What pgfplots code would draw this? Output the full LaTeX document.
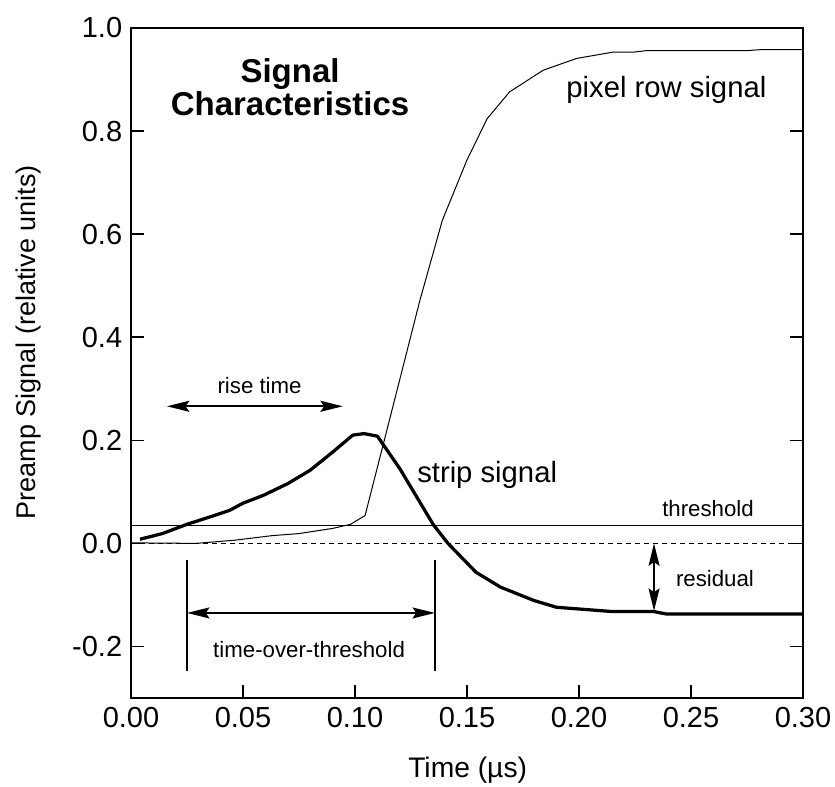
\documentclass[border=0pt]{standalone}
\usepackage{fontspec}
\setmainfont{Liberation Sans}
\usepackage{pgfplots}
\pgfplotsset{compat=1.18}
\usetikzlibrary{arrows.meta}

\begin{document}
\begin{tikzpicture}
\begin{axis}[
	scale only axis,
	width=268.8pt,
	height=268pt,
	xmin=0, xmax=0.30,
	ymin=-0.3, ymax=1.0,
	xtick={0,0.05,...,0.30},
	ytick={-0.2,0,0.2,0.4,0.6,0.8,1.0},
	xtick pos=bottom,
	ytick pos=both,
	tick align=inside,
	major tick length=5.2pt,
	axis line style={line width=0.6pt},
	every tick/.style={black, line width=0.6pt},
	xticklabel style={/pgf/number format/.cd, fixed, fixed zerofill, precision=2, assume math mode=true},
	yticklabel style={/pgf/number format/.cd, fixed, fixed zerofill, precision=1, assume math mode=true},
	scaled x ticks=false,
	tick label style={font=\fontsize{11.6}{13}\selectfont},
	xlabel={Time (µs)},
	ylabel={Preamp Signal (relative units)},
	xlabel style={font=\fontsize{11.3}{13}\selectfont, at={(rel axis cs:0.501,-0.118)}, anchor=base},
	ylabel style={font=\fontsize{10.8}{13}\selectfont, at={(rel axis cs:-0.153,0.531)}, anchor=center},
]

% zero line and threshold
\addplot[black, line width=0.5pt, dash pattern=on 2pt off 1.6pt] coordinates {(0,0) (0.30,0)};
\addplot[black, line width=0.5pt] coordinates {(0,0.034) (0.30,0.034)};

% pixel row signal (thin)
\addplot[black, line width=0.4pt] coordinates {
	(0.000,0.001) (0.029,0.000) (0.046,0.006) (0.063,0.015) (0.075,0.019)
	(0.090,0.029) (0.098,0.037) (0.1045,0.054) (0.1156,0.243) (0.129,0.472)
	(0.139,0.627) (0.150,0.744) (0.159,0.824) (0.169,0.876) (0.184,0.918)
	(0.199,0.941) (0.215,0.953) (0.224,0.953) (0.230,0.956) (0.275,0.956)
	(0.281,0.958) (0.300,0.958)
};

% strip signal (thick)
\addplot[black, line width=1.3pt, line join=round] coordinates {
	(0.004,0.008) (0.014,0.019) (0.025,0.037) (0.035,0.051) (0.044,0.064)
	(0.050,0.078) (0.059,0.093) (0.070,0.116) (0.080,0.142) (0.090,0.177)
	(0.099,0.210) (0.104,0.213) (0.110,0.208) (0.120,0.145) (0.135,0.036)
	(0.1415,0.000) (0.154,-0.056) (0.165,-0.085) (0.180,-0.111) (0.190,-0.124)
	(0.199,-0.127) (0.214,-0.132) (0.233,-0.132) (0.239,-0.137) (0.300,-0.137)
};

% annotations
\tikzset{dbl/.style={line width=0.7pt, {Stealth[length=9pt,width=4.4pt,inset=1.5pt]}-{Stealth[length=9pt,width=4.4pt,inset=1.5pt]}}}
\draw[dbl] (axis cs:0.016,0.266) -- (axis cs:0.0946,0.266);
\draw[line width=0.5pt] (axis cs:0.025,-0.033) -- (axis cs:0.025,-0.247);
\draw[line width=0.5pt] (axis cs:0.1357,-0.033) -- (axis cs:0.1357,-0.247);
\draw[dbl] (axis cs:0.025,-0.135) -- (axis cs:0.1357,-0.135);
\draw[dbl] (axis cs:0.2335,0) -- (axis cs:0.2335,-0.131);

\node[anchor=base, font=\fontsize{8.9}{10}\selectfont] at (axis cs:0.0574,0.291) {rise time};
\node[anchor=base, font=\fontsize{8.9}{10}\selectfont] at (axis cs:0.0795,-0.221) {time-over-threshold};
\node[anchor=base, font=\fontsize{8.9}{10}\selectfont] at (axis cs:0.2576,0.052) {threshold};
\node[anchor=base, font=\fontsize{8.9}{10}\selectfont] at (axis cs:0.2607,-0.083) {residual};
\node[anchor=base, font=\fontsize{11.7}{13}\selectfont] at (axis cs:0.159,0.119) {strip signal};
\node[anchor=base, font=\fontsize{11.7}{13}\selectfont] at (axis cs:0.239,0.866) {pixel row signal};
\node[anchor=base, font=\fontsize{13.2}{15}\selectfont\bfseries] at (axis cs:0.071,0.895) {Signal};
\node[anchor=base, font=\fontsize{13.2}{15}\selectfont\bfseries] at (axis cs:0.071,0.831) {Characteristics};
\end{axis}
\path (current axis.south west) ++(-52.4pt,-35.6pt) coordinate (bbA);
\path (current axis.north east) ++(12.8pt,11.2pt) coordinate (bbB);
\pgfresetboundingbox
\path[use as bounding box] (bbA) rectangle (bbB);
\end{tikzpicture}
\end{document}
